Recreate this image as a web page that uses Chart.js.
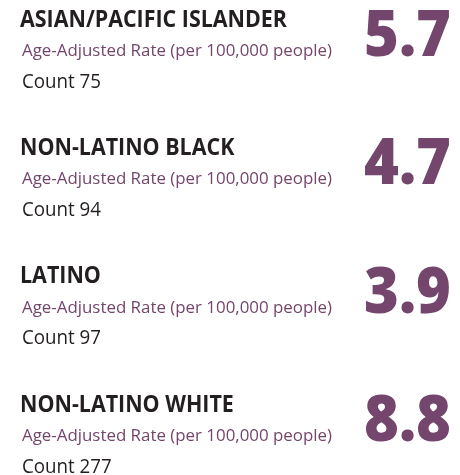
<!DOCTYPE html>
<html>
<head>
<meta charset="utf-8">
<script src="https://cdn.jsdelivr.net/npm/chart.js@4"></script>
<style>
  html, body { margin: 0; padding: 0; background: #fff; }
  #wrap { width: 460px; height: 475px; position: relative; }
</style>
</head>
<body>
<div id="wrap"><canvas id="rateChart"></canvas></div>
<script>
const groups = ["ASIAN/PACIFIC ISLANDER", "NON-LATINO BLACK", "LATINO", "NON-LATINO WHITE"];
const rates = [5.7, 4.7, 3.9, 8.8];
const counts = [75, 94, 97, 277];
const rateLabel = "Age-Adjusted Rate (per 100,000 people)";
const countLabel = "Count";

const FONT = "'Open Sans', sans-serif";
const DARK = "#231f20";
const PURPLE = "#74456d";

// squeeze text horizontally so Open Sans takes the width of the narrower original face
function drawSqueezed(ctx, text, x, y, font, color, sx, align) {
  ctx.save();
  ctx.font = font;
  ctx.fillStyle = color;
  ctx.textBaseline = "alphabetic";
  ctx.textAlign = align || "left";
  ctx.translate(x, y);
  ctx.scale(sx, 1);
  ctx.fillText(text, 0, 0);
  ctx.restore();
}

function fitScale(ctx, font, text, width) {
  ctx.save();
  ctx.font = font;
  const w = ctx.measureText(text).width;
  ctx.restore();
  return width / w;
}

const cardText = {
  id: "cardText",
  afterDatasetsDraw(chart) {
    const ctx = chart.ctx;
    const y = chart.scales.y;
    const left = 20;

    const headFont = "bold 23.5px " + FONT;
    const subFont = "17px " + FONT;
    const countFont = "19.5px " + FONT;
    const numFont = "800 64px " + FONT;

    const headSx = fitScale(ctx, headFont, groups[0], 267);
    const subSx = fitScale(ctx, subFont, rateLabel, 310);
    const countSx = fitScale(ctx, countFont, countLabel + " " + counts[0], 79);
    const numSx = fitScale(ctx, numFont, rates[0].toFixed(1), 87);

    groups.forEach((g, i) => {
      const base = y.getPixelForValue(i);
      drawSqueezed(ctx, g, left, base, headFont, DARK, headSx);
      drawSqueezed(ctx, rateLabel, left + 2, base + 29.5, subFont, PURPLE, subSx);
      drawSqueezed(ctx, countLabel + " " + counts[i], left + 2, base + 61, countFont, DARK, countSx);
      drawSqueezed(ctx, rates[i].toFixed(1), 451, base + 29.5, numFont, PURPLE, numSx, "right");
    });
  }
};

new Chart(document.getElementById("rateChart").getContext("2d"), {
  type: "bar",
  data: {
    labels: groups,
    datasets: [{
      data: rates,
      backgroundColor: "rgba(0,0,0,0)",
      borderWidth: 0
    }]
  },
  options: {
    indexAxis: "y",
    responsive: true,
    maintainAspectRatio: false,
    animation: false,
    events: [],
    layout: { padding: { top: 26.5, bottom: 63.5, left: 0, right: 0 } },
    plugins: {
      legend: { display: false },
      tooltip: { enabled: false }
    },
    scales: {
      x: { display: false, min: 0, max: 10 },
      y: { display: false, offset: false }
    }
  },
  plugins: [cardText]
});
</script>
</body>
</html>
